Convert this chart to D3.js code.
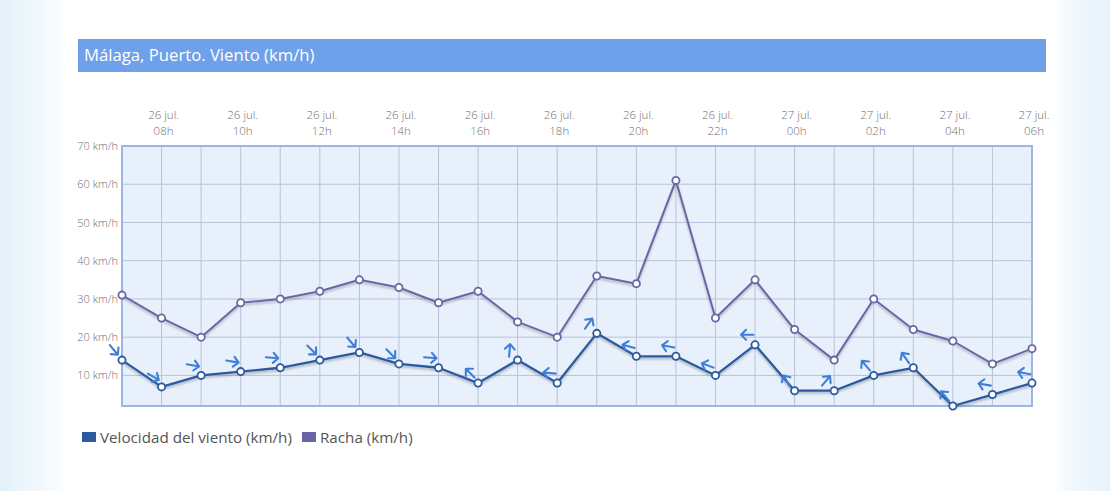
<!DOCTYPE html>
<html>
<head>
<meta charset="utf-8">
<script src="https://cdn.jsdelivr.net/npm/d3@7"></script>
<style>
  html, body { margin: 0; padding: 0; }
  body {
    width: 1110px; height: 491px; overflow: hidden;
    background: linear-gradient(90deg, #e4f1fa 0%, #f6fbfe 5%, #ffffff 6%, #ffffff 95%, #f3f9fd 96%, #e6f2fa 100%);
    font-family: "Open Sans", "DejaVu Sans", sans-serif;
  }
  #chart { position: absolute; left: 0; top: 0; }
</style>
</head>
<body>
<div id="chart"></div>
<script>
// horas: 26 jul. 07h ... 27 jul. 06h
let hours = ['07', '08', '09', '10', '11', '12', '13', '14', '15', '16', '17', '18',
             '19', '20', '21', '22', '23', '00', '01', '02', '03', '04', '05', '06'];
let days = ['26', '26', '26', '26', '26', '26', '26', '26', '26', '26', '26', '26',
            '26', '26', '26', '26', '26', '27', '27', '27', '27', '27', '27', '27'];
let speed = [14, 7, 10, 11, 12, 14, 16, 13, 12, 8, 14, 8, 21, 15, 15, 10, 18, 6, 6, 10, 12, 2, 5, 8];
let gust = [31, 25, 20, 29, 30, 32, 35, 33, 29, 32, 24, 20, 36, 34, 61, 25, 35, 22, 14, 30, 22, 19, 13, 17];
// direction the arrow points, degrees clockwise from north
let windDir = [140, 120, 100, 100, 95, 135, 140, 135, 95, 315, 5, 275, 35, 285, 280, 290, 270, 330, 40, 320, 325, 320, 280, 280];
let yTicks = [10, 20, 30, 40, 50, 60, 70];
let yMin = 2, yMax = 70;

let chartWidth = 1110,
    chartHeight = 491,
    plot = {left: 122, right: 1032, top: 146, bottom: 406};

let colors = {speed: '#2c5aa0', gust: '#6a66a6', arrow: '#3f7fd8', grid: '#b9c2d8', frame: '#9cb8e2', text: '#707070'};

let svg = d3.select('#chart').append('svg')
    .attr('width', chartWidth)
    .attr('height', chartHeight);

let defs = svg.append('defs');
defs.append('filter')
    .attr('id', 'shadow')
    .attr('x', '-5%').attr('y', '-20%').attr('width', '110%').attr('height', '140%')
    .append('feDropShadow')
    .attr('dx', 0).attr('dy', 2)
    .attr('stdDeviation', 1.2)
    .attr('flood-color', '#000')
    .attr('flood-opacity', 0.25);

// title bar
svg.append('rect')
    .attr('x', 78).attr('y', 39)
    .attr('width', 968).attr('height', 33)
    .attr('fill', '#6fa1eb');

svg.append('text')
    .attr('x', 84).attr('y', 61)
    .attr('fill', '#fff')
    .style('font-size', '16.7px')
    .text('Málaga, Puerto. Viento (km/h)');

let xScale = d3.scalePoint()
    .domain(d3.range(speed.length))
    .range([plot.left, plot.right]);

let yScale = d3.scaleLinear()
    .domain([yMin, yMax])
    .range([plot.bottom, plot.top]);

// plot background
svg.append('rect')
    .attr('x', plot.left).attr('y', plot.top)
    .attr('width', plot.right - plot.left)
    .attr('height', plot.bottom - plot.top)
    .attr('fill', '#e8f0fb');

let grid_g = svg.append('g').attr('class', 'grid');

grid_g.selectAll('.vgrid')
    .data(xScale.domain())
    .join('line')
    .attr('class', 'vgrid')
    .attr('x1', d => xScale(d)).attr('x2', d => xScale(d))
    .attr('y1', plot.top).attr('y2', plot.bottom)
    .attr('stroke', colors.grid)
    .attr('stroke-width', 1);

grid_g.selectAll('.hgrid')
    .data(yTicks)
    .join('line')
    .attr('class', 'hgrid')
    .attr('x1', plot.left).attr('x2', plot.right)
    .attr('y1', d => yScale(d)).attr('y2', d => yScale(d))
    .attr('stroke', colors.grid)
    .attr('stroke-width', 1);

// frame
svg.append('rect')
    .attr('x', plot.left).attr('y', plot.top)
    .attr('width', plot.right - plot.left)
    .attr('height', plot.bottom - plot.top)
    .attr('fill', 'none')
    .attr('stroke', colors.frame)
    .attr('stroke-width', 2);

// y axis labels
let yAxis = svg.append('g')
    .attr('class', 'y-axis')
    .attr('transform', `translate(${plot.left}, 0)`)
    .call(d3.axisLeft(yScale).tickValues(yTicks).tickSize(0).tickPadding(4).tickFormat(d => d + ' km/h'));
yAxis.select('.domain').remove();
yAxis.selectAll('text')
    .attr('fill', colors.text)
    .style('font-family', '"Open Sans", sans-serif')
    .style('font-weight', 300)
    .style('font-size', '11px');

// top time labels, every two hours
let xLabel_g = svg.append('g').attr('class', 'x-labels');
let labelIdx = xScale.domain().filter(i => i % 2 === 1);
let xLabels = xLabel_g.selectAll('text')
    .data(labelIdx)
    .join('text')
    .attr('x', d => xScale(d) + 2)
    .attr('y', 119)
    .attr('text-anchor', 'middle')
    .attr('fill', colors.text)
    .style('font-weight', 300)
    .style('font-size', '11.5px');
xLabels.append('tspan')
    .attr('x', d => xScale(d) + 2)
    .text(d => days[d] + ' jul.');
xLabels.append('tspan')
    .attr('x', d => xScale(d) + 2)
    .attr('dy', 16)
    .text(d => hours[d] + 'h');

let line = d3.line()
    .x((d, i) => xScale(i))
    .y(d => yScale(d));

function drawSeries(values, color, width) {
    let g = svg.append('g');
    g.append('path')
        .datum(values)
        .attr('d', line)
        .attr('fill', 'none')
        .attr('stroke', color)
        .attr('stroke-width', width)
        .attr('stroke-linejoin', 'round')
        .attr('filter', 'url(#shadow)');
    g.selectAll('circle')
        .data(values)
        .join('circle')
        .attr('cx', (d, i) => xScale(i))
        .attr('cy', d => yScale(d))
        .attr('r', 3.6)
        .attr('fill', '#fff')
        .attr('stroke', color)
        .attr('stroke-width', 1.8);
}

drawSeries(gust, colors.gust, 2);
drawSeries(speed, colors.speed, 2.3);

// wind direction arrows
svg.append('g').attr('class', 'arrows')
    .selectAll('path')
    .data(speed)
    .join('path')
    .attr('transform', (d, i) => `translate(${xScale(i) - 8}, ${yScale(d) - 10}) rotate(${windDir[i]})`)
    .attr('d', 'M0,6.5 L0,-6 M-5,-1 L0,-6 L5,-1')
    .attr('fill', 'none')
    .attr('stroke', colors.arrow)
    .attr('stroke-width', 2.1)
    .attr('stroke-linecap', 'round')
    .attr('stroke-linejoin', 'round');

// legend
let legendItems = [
    {name: 'Velocidad del viento (km/h)', color: colors.speed, x: 82},
    {name: 'Racha (km/h)', color: colors.gust, x: 302}
];
let legend = svg.append('g').attr('class', 'legend')
    .selectAll('g')
    .data(legendItems)
    .join('g')
    .attr('transform', d => `translate(${d.x}, 432)`);
legend.append('rect')
    .attr('width', 14).attr('height', 10)
    .attr('fill', d => d.color);
legend.append('text')
    .attr('x', 18).attr('y', 10.5)
    .attr('fill', '#555')
    .style('font-size', '15.2px')
    .text(d => d.name);
</script>
</body>
</html>
